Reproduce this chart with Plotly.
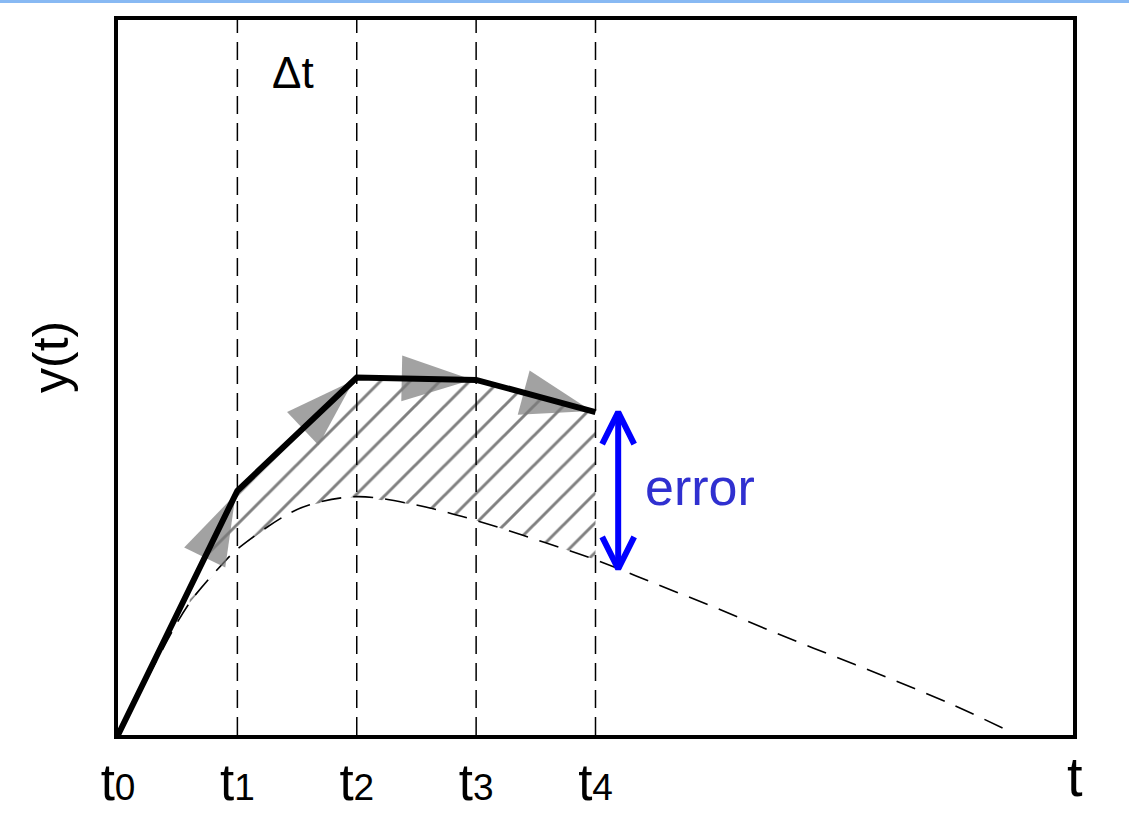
import numpy as np
import plotly.graph_objects as go

# Euler steps: time nodes and the explicit-Euler approximation at each node
t_steps = [0, 1, 2, 3, 4]
y_euler = [0.0, 2.05, 3.0, 2.98, 2.71]
step_labels = ["t0", "t1", "t2", "t3", "t4"]

# Exact solution y(t), sampled along the curve
t_true = [0, 0.3, 0.6, 0.88, 1.0, 1.4, 1.6, 2.0, 2.5, 3.0, 3.5, 4.0,
          4.5, 5.0, 5.5, 6.0, 6.5, 7.0, 7.45]
y_true = [0, 0.58, 1.11, 1.44, 1.56, 1.84, 1.93, 2.0, 1.93, 1.80, 1.64, 1.47,
          1.27, 1.07, 0.86, 0.66, 0.46, 0.25, 0.04]

hatch_start = 0.6   # where the two solutions begin to separate
err_t = 4.19        # position of the error bracket

X_RANGE = [0, 8]
Y_RANGE = [0, 6]
L, R, T, B = 118, 56, 20, 87
W, H = 1129, 822
px_x = (W - L - R) / (X_RANGE[1] - X_RANGE[0])
px_y = (H - T - B) / (Y_RANGE[1] - Y_RANGE[0])

FONT = "Liberation Sans"

fig = go.Figure()

# Hatched area between the Euler polygon and the exact solution
up_t = [hatch_start] + [t for t in t_steps if t > hatch_start]
up_y = [float(np.interp(hatch_start, t_steps, y_euler))] + \
       [y for t, y in zip(t_steps, y_euler) if t > hatch_start]
lo = [(t, y) for t, y in zip(t_true, y_true) if hatch_start <= t <= t_steps[-1]]
lo_t = [p[0] for p in lo][::-1]
lo_y = [p[1] for p in lo][::-1]
fig.add_trace(go.Scatter(
    x=up_t + lo_t, y=up_y + lo_y, mode="lines", fill="toself",
    fillcolor="rgba(0,0,0,0)", line=dict(width=0),
    fillpattern=dict(shape="/", size=21, solidity=0.14,
                     fgcolor="black", bgcolor="rgba(0,0,0,0)"),
    hoverinfo="skip", showlegend=False))

# Exact solution (dashed)
fig.add_trace(go.Scatter(
    x=t_true, y=y_true, mode="lines",
    line=dict(color="black", width=1.6, dash="20px,12px", shape="spline"),
    showlegend=False))

# Grey slope arrows along each Euler step
fig.add_trace(go.Scatter(
    x=t_steps, y=y_euler, mode="markers",
    marker=dict(symbol="arrow", angleref="previous", color="#7a7a7a",
                size=[0] + [74] * (len(t_steps) - 1), standoff=4,
                line=dict(width=0)),
    showlegend=False))

# Euler polygon
fig.add_trace(go.Scatter(
    x=t_steps, y=y_euler, mode="lines",
    line=dict(color="black", width=6),
    showlegend=False))

# Error bracket with chevron heads
y_top = y_euler[-1]
y_bot = float(np.interp(err_t, t_true, y_true))
dx = 16 / px_x
dy = 32 / px_y
ex = [err_t, err_t, None,
      err_t - dx, err_t, err_t + dx, None,
      err_t - dx, err_t, err_t + dx]
ey = [y_top, y_bot, None,
      y_top - dy, y_top, y_top - dy, None,
      y_bot + dy, y_bot, y_bot + dy]
fig.add_trace(go.Scatter(
    x=ex, y=ey, mode="lines",
    line=dict(color="#0000ff", width=6),
    showlegend=False))

# Vertical dashed grid at each step
for t in t_steps[1:]:
    fig.add_shape(type="line", xref="x", yref="paper", x0=t, x1=t, y0=0, y1=1,
                  line=dict(color="black", width=1.5, dash="18px,9px"),
                  layer="below")

# Thin light-blue rule along the top of the page
fig.add_shape(type="line", xref="paper", yref="paper",
              x0=-L / (W - L - R), x1=(W - L) / (W - L - R),
              y0=(H - B - 1.5) / (H - T - B), y1=(H - B - 1.5) / (H - T - B),
              line=dict(color="#88b9f3", width=3))

tick_text = [f"{s[0]}<span style='font-size:37px'>{s[1:]}</span>"
             for s in step_labels]

fig.update_xaxes(range=X_RANGE, showgrid=False, zeroline=False,
                 showline=True, linecolor="black", linewidth=3.5, mirror=True,
                 tickmode="array", tickvals=t_steps, ticktext=tick_text,
                 ticks="", ticklabelstandoff=0, automargin=False,
                 tickfont=dict(family=FONT, size=51, color="black"))
fig.update_yaxes(range=Y_RANGE, showgrid=False, zeroline=False,
                 showline=True, linecolor="black", linewidth=3.5, mirror=True,
                 showticklabels=False, ticks="", automargin=False)

fig.add_annotation(x=1.466, y=5.56, xref="x", yref="y", text="Δt",
                   showarrow=False, font=dict(family=FONT, size=44, color="black"))
fig.add_annotation(x=4.40, y=2.08, xref="x", yref="y", text="error",
                   xanchor="left", showarrow=False,
                   font=dict(family=FONT, size=52, color="#3030d0"))
fig.add_annotation(x=(51 - L) / (W - L - R), y=(H - B - 357) / (H - T - B),
                   xref="paper", yref="paper", text="y(t)", textangle=-90,
                   xanchor="center", yanchor="middle",
                   showarrow=False, font=dict(family=FONT, size=50, color="black"))
fig.add_annotation(x=(1075 - L) / (W - L - R), y=(H - B - 776) / (H - T - B),
                   xref="paper", yref="paper", text="t",
                   xanchor="center", yanchor="middle",
                   showarrow=False, font=dict(family=FONT, size=56, color="black"))

fig.update_layout(width=W, height=H, margin=dict(l=L, r=R, t=T, b=B, autoexpand=False),
                  paper_bgcolor="white", plot_bgcolor="white",
                  showlegend=False)

fig.write_html("out.html")
